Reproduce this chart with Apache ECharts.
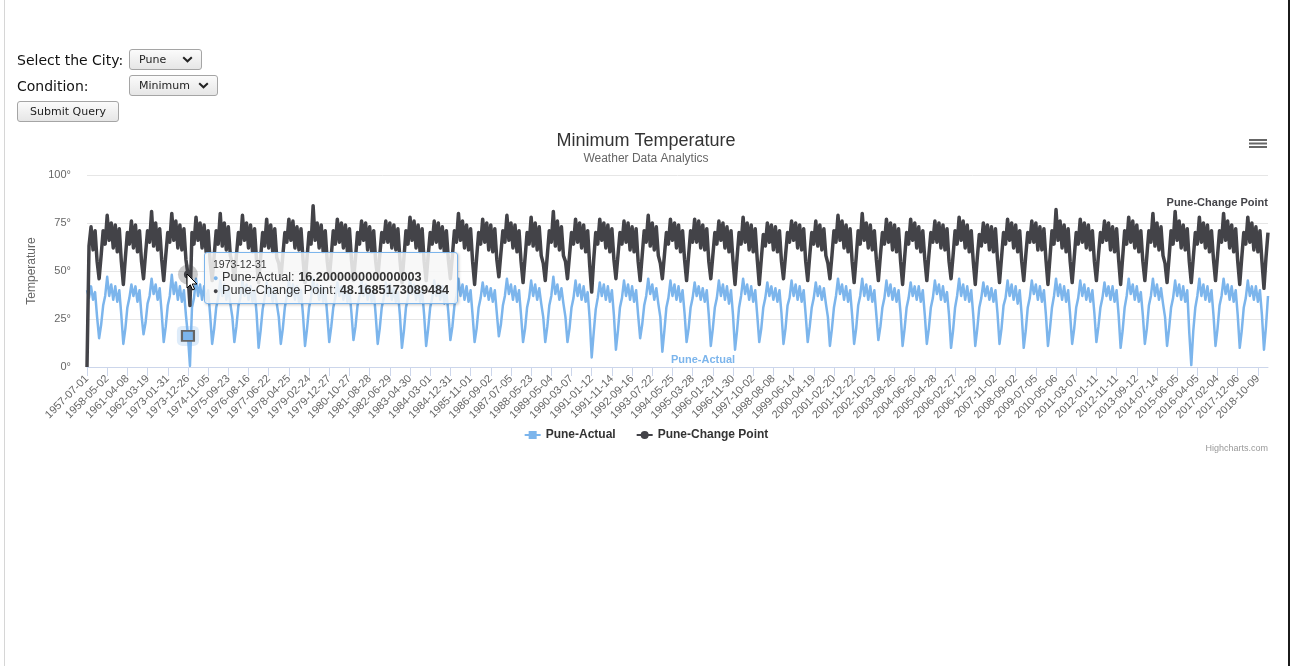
<!DOCTYPE html>
<html>
<head>
<meta charset="utf-8">
<script src="https://cdn.jsdelivr.net/npm/echarts@6/dist/echarts.min.js"></script>
<style>
html,body{margin:0;padding:0;width:1292px;height:666px;overflow:hidden;background:#fff;}
#chart{position:absolute;left:0;top:0;width:1292px;height:666px;}
.edge-l{position:absolute;left:4px;top:0;width:1px;height:666px;background:#d6d6d6;z-index:6;}
.edge-r{position:absolute;left:1288px;top:0;width:2px;height:666px;background:#1b1b1b;z-index:6;}
.lbl{position:absolute;z-index:5;font-family:"DejaVu Sans",sans-serif;font-size:14px;line-height:16px;color:#111;white-space:nowrap;}
.sel{position:absolute;z-index:5;box-sizing:border-box;height:21px;border:1px solid #a5a5a5;border-radius:3px;
  -webkit-appearance:none;appearance:none;font-family:"DejaVu Sans",sans-serif;font-size:11px;color:#222;padding:0 0 0 9px;
  background:url("data:image/svg+xml,%3Csvg xmlns='http://www.w3.org/2000/svg' width='11' height='7'%3E%3Cpath d='M1.2 1.2l4.3 4.1 4.3-4.1' fill='none' stroke='%23222' stroke-width='2'/%3E%3C/svg%3E") no-repeat right 8px center, linear-gradient(#fbfbfb,#e6e6e6);}
.btn{position:absolute;z-index:5;box-sizing:border-box;height:21px;border:1px solid #a5a5a5;border-radius:3px;
  font-family:"DejaVu Sans",sans-serif;font-size:11px;color:#222;background:linear-gradient(#fbfbfb,#e6e6e6);padding:0;}
</style>
</head>
<body>
<div class="edge-l"></div>
<div class="edge-r"></div>
<div id="chart"></div>
<span class="lbl" style="left:17px;top:52px;">Select the City:</span>
<select class="sel" style="left:129px;top:49px;width:73px;"><option>Pune</option></select>
<span class="lbl" style="left:17px;top:78px;">Condition:</span>
<select class="sel" style="left:129px;top:75px;width:89px;"><option>Minimum</option></select>
<button class="btn" style="left:17px;top:101px;width:102px;">Submit Query</button>
<script>
// ---- tick labels of the category axis ----
const tickLabels = ['1957-07-01','1958-05-02','1961-04-08','1962-03-19','1973-01-31','1973-12-26','1974-11-05','1975-09-23','1976-08-16','1977-06-22','1978-04-25','1979-02-24','1979-12-27','1980-10-27','1981-08-28','1982-06-29','1983-04-30','1984-03-01','1984-12-31','1985-11-01','1986-09-02','1987-07-05','1988-05-23','1989-05-04','1990-03-07','1991-01-12','1991-11-14','1992-09-16','1993-07-22','1994-05-25','1995-03-28','1996-01-29','1996-11-30','1997-10-02','1998-08-08','1999-06-14','2000-04-19','2001-02-20','2001-12-22','2002-10-23','2003-08-26','2004-06-26','2005-04-28','2006-02-27','2006-12-29','2007-11-02','2008-09-02','2009-07-05','2010-05-06','2011-03-07','2012-01-11','2012-11-11','2013-09-12','2014-07-14','2015-06-05','2016-04-05','2017-02-04','2017-12-06','2018-10-09'];
const pointsPerTick = 10;

// ---- Pune-Actual (one line per winter-to-winter cycle) ----
const actualValues = [
40,36,42,35,39,26,
15,22,32,37,47,37,43,35,42,34,40,27,
12,20,31,36,43,37,42,34,40,27,
17,23,33,37,46,38,43,35,41,28,
13,21,32,37,48,38,44,35,42,34,40,27,
16.200000000000003,0.5,31,36,46,37,43,35,42,34,40,27,
12,20,31,36,45,37,43,35,41,33,26,
13,21,32,36,45,37,43,35,42,34,40,28,
10,19,30,36,44,37,42,34,41,33,26,
12,20,31,37,45,37,43,35,42,34,40,27,
11,20,31,36,46,38,43,35,42,34,40,27,
13,21,31,36,44,37,42,35,41,34,40,28,
14,21,32,37,45,37,43,35,42,34,40,27,
12,20,31,36,44,37,43,35,41,34,39,27,
10,19,31,36,46,38,43,35,42,34,40,27,
11,20,31,36,45,37,43,35,42,33,40,28,
14,21,32,37,46,37,43,35,42,34,40,27,
13,20,31,36,44,37,42,35,41,34,40,28,
16,22,32,37,46,38,43,35,42,34,40,27,
13,20,31,36,45,37,43,35,41,33,26,
13,21,32,37,47,38,43,35,41,33,26,
13,20,31,36,45,37,43,35,42,34,39,25,
5,18,30,36,44,37,43,35,42,34,40,27,
9,19,31,36,45,37,43,35,42,34,40,27,
15,22,32,37,46,38,43,35,41,33,26,
8,19,31,36,45,37,43,35,42,34,40,28,
13,20,31,36,44,37,42,35,41,34,40,27,
11,20,31,36,45,37,43,35,42,33,40,27,
9,19,31,37,46,38,43,35,42,34,40,27,
13,20,31,36,44,37,42,35,41,34,40,28,
12,20,32,36,45,37,43,35,42,34,40,27,
13,21,31,36,44,37,42,35,41,33,26,
11,20,31,37,46,38,43,35,42,34,40,27,
12,20,32,37,46,37,43,35,42,34,40,27,
14,21,31,36,45,37,43,35,41,34,40,28,
11,20,31,36,44,37,42,35,42,34,40,27,
12,20,31,36,45,38,43,35,42,34,39,27,
10,19,31,37,46,37,43,35,42,34,40,27,
11,20,31,36,44,37,42,35,41,34,40,28,
12,20,32,36,45,37,43,35,42,33,40,27,
10,19,31,36,45,38,43,35,42,34,40,27,
11,20,31,37,46,37,43,35,42,34,40,27,
12,20,31,36,45,37,43,35,41,34,40,28,
13,21,31,36,44,37,42,35,42,34,40,27,
10,19,31,37,46,38,43,35,42,34,39,27,
12,20,32,37,46,37,43,35,41,33,26,
11,20,31,36,45,37,43,35,42,34,40,18,
1,19,31,37,46,37,43,35,42,34,40,27,
11,20,32,37,46,38,43,35,42,34,40,27,
10,19,31,36,45,37,42,35,42,34,40,27,
9,21,37
];

// ---- Pune-Change Point (one line per cycle) ----
const changePointValues = [
0,63,73,61,71,55,
46,58,71,64,79,66,75,62,74,60,72,55,
43,57,70,64,76,62,74,60,71,55,
46,59,71,65,81,63,75,61,72,56,
45,58,70,65,80,66,76,62,74,61,72,56,
48.1685173089484,32,70,64,78,66,75,62,74,60,71,55,
45,58,71,64,80,63,75,61,73,58,54,
45,58,70,64,79,66,75,62,74,60,72,55,
44,57,70,63,77,62,74,60,72,57,54,
46,58,70,65,77,66,76,62,73,61,72,56,
44,57,70,64,84,66,75,62,74,60,71,55,
46,58,71,64,77,65,75,62,74,60,72,56,
45,57,70,64,76,66,75,61,73,60,71,55,
46,58,70,65,76,65,75,62,74,61,72,56,
44,57,71,64,78,66,76,62,74,60,72,55,
45,58,70,64,76,65,75,62,73,60,71,56,
46,58,71,65,80,66,76,62,74,61,72,55,
43,57,70,64,77,65,75,61,74,60,72,56,
47,59,71,65,79,66,75,62,74,60,71,55,
44,57,70,64,78,63,75,61,73,58,54,
45,58,71,65,81,63,76,61,73,58,55,
46,58,70,64,77,65,75,62,74,60,71,53,
39,56,70,64,77,66,75,62,74,60,72,56,
46,58,70,64,76,65,75,61,73,60,72,55,
45,58,71,65,79,63,75,61,73,58,54,
46,58,70,64,77,66,75,62,74,60,71,56,
45,58,71,65,77,65,76,62,74,61,72,55,
46,58,70,64,76,66,75,62,73,60,71,55,
43,57,70,64,78,65,75,61,74,60,72,56,
43,56,69,63,75,65,74,61,73,60,71,55,
46,58,70,65,76,66,75,62,74,61,72,55,
45,58,70,64,76,63,74,61,72,58,54,
46,58,71,65,79,66,76,62,74,60,72,55,
44,57,71,64,80,66,75,62,74,61,71,56,
45,58,70,64,77,65,75,61,74,60,72,55,
43,57,70,64,77,66,75,62,73,60,71,56,
45,58,70,65,76,65,75,62,74,61,72,55,
46,58,71,64,78,66,76,62,74,60,71,55,
43,57,69,63,75,65,74,61,73,60,72,56,
44,57,70,64,77,66,75,62,74,60,71,55,
45,58,70,65,76,65,75,61,73,61,72,56,
43,57,71,64,82,66,76,62,74,60,72,55,
44,57,70,64,77,65,75,62,74,61,71,55,
45,58,70,65,76,66,75,61,73,60,72,56,
43,57,71,64,78,65,76,62,74,60,71,55,
45,58,71,65,80,63,75,61,73,58,54,
44,57,71,64,81,66,76,62,74,61,72,55,
44,57,70,64,78,65,75,62,74,60,71,56,
45,58,71,65,80,66,76,62,74,60,72,55,
43,57,70,64,78,65,75,61,73,60,71,55,
41,57,70
];

// hovered point shown in the tooltip
const hoverIndex = 50;
const hoverDate = '1973-12-31';

// ---- build category axis from tick labels ----
const categories = [];
tickLabels.forEach(function (t, j) {
  categories.push(t);
  if (j < tickLabels.length - 1) { for (let n = 1; n < pointsPerTick; n++) categories.push(''); }
});
while (categories.length < actualValues.length) categories.push('');
const isTick = function (index) { return index % pointsPerTick === 0 && index / pointsPerTick < tickLabels.length; };

const FONT = '"Liberation Sans", Arial, sans-serif';
const BLUE = '#7cb5ec', DARK = '#434348';

const chart = echarts.init(document.getElementById('chart'), null, {renderer: 'canvas'});
const option = {
  animation: false,
  textStyle: {fontFamily: FONT},
  title: {
    text: 'Minimum Temperature', subtext: 'Weather Data Analytics',
    left: 'center', top: 127, itemGap: 3,
    textStyle: {fontSize: 18, fontWeight: 'normal', color: '#333333', fontFamily: FONT},
    subtextStyle: {fontSize: 12, color: '#666666', fontFamily: FONT}
  },
  legend: {
    top: 424, left: 'center', itemWidth: 16, itemHeight: 10, itemGap: 20,
    textStyle: {fontSize: 12, fontWeight: 'bold', color: '#333333', fontFamily: FONT},
    lineStyle: {width: 2},
    data: ['Pune-Actual', 'Pune-Change Point']
  },
  grid: {left: 87, right: 24, top: 175, bottom: 299, containLabel: false, outerBoundsMode: 'none'},
  tooltip: {
    trigger: 'axis', triggerOn: 'none', alwaysShowContent: true, transitionDuration: 0,
    axisPointer: {type: 'none', triggerEmphasis: false},
    position: [204, 252],
    backgroundColor: 'rgba(247,247,247,0.85)', borderColor: BLUE, borderWidth: 1, borderRadius: 3,
    padding: [5, 8],
    textStyle: {fontSize: 12.7, color: '#333333', fontFamily: FONT},
    extraCssText: 'box-shadow:1px 1px 3px rgba(0,0,0,0.22);line-height:12.5px;',
    formatter: function (params) {
      let html = '<div style="font-size:10.5px;line-height:12.5px;">' + hoverDate + '</div>';
      params.forEach(function (p) {
        html += '<div><span style="color:' + p.color + ';font-size:9px;">\u25CF</span> ' +
          p.seriesName + ': <b>' + p.value + '</b></div>';
      });
      return html;
    }
  },
  xAxis: {
    type: 'category', data: categories, boundaryGap: false,
    axisLine: {lineStyle: {color: '#ccd6eb', width: 1}},
    axisTick: {length: 9, interval: isTick, lineStyle: {color: '#ccd6eb'}},
    axisLabel: {interval: isTick, rotate: 45, fontSize: 11, color: '#666666', margin: 10, fontFamily: FONT},
    splitLine: {show: false}
  },
  yAxis: {
    type: 'value', min: 0, max: 100, interval: 25,
    name: 'Temperature', nameLocation: 'middle', nameGap: 48, nameRotate: 90,
    nameTextStyle: {fontSize: 12, color: '#666666', fontFamily: FONT},
    axisLabel: {formatter: '{value}°', fontSize: 11, color: '#666666', margin: 16, fontFamily: FONT},
    axisLine: {show: false}, axisTick: {show: false},
    splitLine: {lineStyle: {color: '#e6e6e6'}}
  },
  series: [
    {
      name: 'Pune-Actual', type: 'line', data: actualValues,
      symbol: 'rect', showSymbol: false, sampling: null,
      lineStyle: {width: 2.5, color: BLUE, join: 'round'},
      itemStyle: {color: BLUE},
      emphasis: {disabled: true},
      markPoint: {
        silent: true, animation: false, label: {show: false},
        data: [
          {coord: [hoverIndex, actualValues[hoverIndex]], symbol: 'roundRect', symbolSize: [22, 20],
            itemStyle: {color: 'rgba(124,181,236,0.25)'}},
          {coord: [hoverIndex, actualValues[hoverIndex]], symbol: 'rect', symbolSize: [12, 10],
            itemStyle: {color: BLUE, borderColor: '#666666', borderWidth: 2}}
        ]
      }
    },
    {
      name: 'Pune-Change Point', type: 'line', data: changePointValues,
      symbol: 'circle', showSymbol: false, sampling: null,
      lineStyle: {width: 3.5, color: DARK, join: 'round'},
      itemStyle: {color: DARK},
      emphasis: {disabled: true},
      markPoint: {
        silent: true, animation: false, label: {show: false},
        data: [
          {coord: [hoverIndex, changePointValues[hoverIndex]], symbol: 'circle', symbolSize: 20,
            itemStyle: {color: 'rgba(67,67,72,0.28)'}},
          {coord: [hoverIndex, changePointValues[hoverIndex]], symbol: 'circle', symbolSize: 8,
            itemStyle: {color: DARK}}
        ]
      }
    }
  ],
  graphic: [
    {type: 'rect', silent: true, z: 100, shape: {x: 1249, y: 139, width: 18, height: 2}, style: {fill: '#666666'}},
    {type: 'rect', silent: true, z: 100, shape: {x: 1249, y: 142.5, width: 18, height: 2}, style: {fill: '#666666'}},
    {type: 'rect', silent: true, z: 100, shape: {x: 1249, y: 146, width: 18, height: 2}, style: {fill: '#666666'}},
    {type: 'text', silent: true, z: 100, x: 703, y: 360,
      style: {text: 'Pune-Actual', fill: BLUE, font: 'bold 11px ' + FONT, align: 'center', verticalAlign: 'middle', textAlign: 'center', textVerticalAlign: 'middle'}},
    {type: 'text', silent: true, z: 100, x: 1268, y: 203,
      style: {text: 'Pune-Change Point', fill: DARK, font: 'bold 11px ' + FONT, align: 'right', verticalAlign: 'middle', textAlign: 'right', textVerticalAlign: 'middle'}},
    {type: 'text', silent: true, z: 100, x: 1268, y: 449,
      style: {text: 'Highcharts.com', fill: '#999999', font: '9px ' + FONT, align: 'right', verticalAlign: 'middle', textAlign: 'right', textVerticalAlign: 'middle'}},
    {type: 'polygon', silent: true, z: 200, x: 187, y: 274,
      shape: {points: [[0,0],[0,14],[3.3,10.8],[5.6,16],[7.6,15.1],[5.3,10],[10,10]]},
      style: {fill: '#ffffff', stroke: '#000000', lineWidth: 1}}
  ]
};
chart.setOption(option);
chart.dispatchAction({type: 'showTip', seriesIndex: 0, dataIndex: hoverIndex});
</script>
</body>
</html>
